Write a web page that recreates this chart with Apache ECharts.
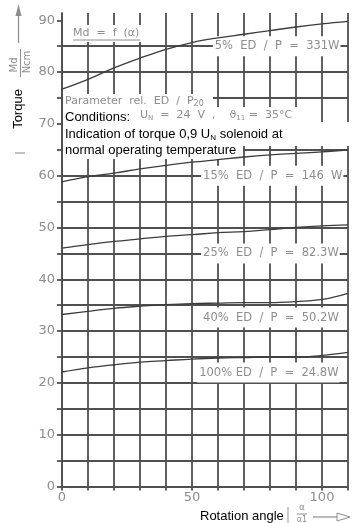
<!DOCTYPE html>
<html>
<head>
<meta charset="utf-8">
<script src="https://cdn.jsdelivr.net/npm/echarts@6/dist/echarts.min.js"></script>
<style>
  html, body { margin: 0; padding: 0; background: #fff; }
  #chart { width: 352px; height: 523px; }
</style>
</head>
<body>
<div id="chart"></div>
<script>
// Rotation angle (x) and torque Md in Ncm for each duty cycle
const angles = [0, 10, 20, 30, 40, 50, 60, 70, 80, 90, 100, 110];
const ed5   = [76.7, 78.6, 80.8, 82.7, 84.4, 85.7, 86.6, 87.3, 88.0, 88.7, 89.3, 89.8];
const ed15  = [58.8, 59.8, 60.5, 61.3, 62.0, 62.6, 63.1, 63.6, 64.0, 64.3, 64.6, 65.0];
const ed25  = [46.0, 46.7, 47.3, 47.8, 48.3, 48.6, 49.0, 49.2, 49.6, 50.0, 50.3, 50.5];
const ed40  = [33.2, 33.8, 34.4, 34.8, 35.1, 35.3, 35.4, 35.5, 35.5, 35.7, 36.1, 37.3];
const ed100 = [22.1, 22.9, 23.5, 24.0, 24.3, 24.6, 24.8, 24.9, 25.0, 25.0, 25.3, 25.9];

// Curve captions and the torque level they sit on
const curveLabels = ['5%  ED  /  P  =  331W', '15%  ED  /  P  =  146  W', '25%  ED  /  P  =  82.3W', '40%  ED  /  P  =  50.2W', '100% ED  /  P  =  24.8W'];
const curveLabelAt = [[58, 85], [53.5, 60], [53.5, 45], [53.5, 32.6], [52, 22]];

// Axis ticks and labels
const yTickValues = [0, 5, 10, 15, 20, 25, 30, 35, 40, 45, 50, 55, 60, 65, 70, 75, 80, 85, 90];
const yLabelValues = [0, 10, 20, 30, 40, 50, 60, 70, 80, 90];
const xLabelValues = [0, 50, 100];

const ink = '#505050';
const grey = '#8e8e8e';
const curveInk = '#3c3c3c';
const draft = "'DejaVu Sans',sans-serif";
const arial = "'Liberation Sans', Arial, sans-serif";

const chart = echarts.init(document.getElementById('chart'), null, { renderer: 'canvas' });

function curve(name, values) {
  return {
    name, type: 'line', smooth: 0.4, symbol: 'none', z: 2,
    data: angles.map((a, i) => [a, values[i]]),
    lineStyle: { color: curveInk, width: 1.3 }
  };
}

chart.setOption({
  animation: false,
  backgroundColor: '#fff',
  grid: { left: 62, right: 4, top: 13, bottom: 36.5 },
  xAxis: {
    type: 'value', min: 0, max: 110, interval: 10,
    axisLine: { lineStyle: { color: ink, width: 1.8 } },
    axisTick: { length: 4, lineStyle: { color: ink, width: 1.8 } },
    splitLine: { lineStyle: { color: ink, width: 1.8 } },
    axisLabel: {
      color: grey, fontFamily: draft, fontSize: 13, margin: 5,
      formatter: v => xLabelValues.includes(v) ? String(v) : ''
    }
  },
  yAxis: {
    type: 'value', min: 0, max: 91.4, interval: 5,
    axisLine: { lineStyle: { color: ink, width: 1.8 } },
    axisTick: { length: 5, customValues: yTickValues, lineStyle: { color: ink, width: 1.8 } },
    splitLine: { showMaxLine: false, lineStyle: { color: ink, width: 1.8 } },
    axisLabel: {
      color: grey, fontFamily: draft, fontSize: 13, margin: 7,
      customValues: yLabelValues,
      formatter: v => yLabelValues.includes(v) ? String(v) : ''
    }
  },
  series: [
    curve('5% ED', ed5),
    curve('15% ED', ed15),
    curve('25% ED', ed25),
    curve('40% ED', ed40),
    curve('100% ED', ed100)
  ]
});

// Annotations: white panels hide the grid behind text
const whiteBox = (x, y, w, h) => ({
  type: 'rect', z: 1, silent: true,
  shape: { x, y, width: w, height: h },
  style: { fill: '#fff' }
});

const elements = [
  whiteBox(63, 94, 150, 14),
  whiteBox(63, 107, 237, 16),
  whiteBox(63, 122, 289, 24),
  whiteBox(63, 145, 180, 14),
  whiteBox(71, 25, 72, 17),

  // Md = f (α)
  { type: 'text', z: 3, x: 73, y: 33, style: { text: 'Md  =  f  (α)', fill: grey, font: `11px ${draft}`, textVerticalAlign: 'middle' } },
  { type: 'line', z: 3, shape: { x1: 73, y1: 40, x2: 140, y2: 40 }, style: { stroke: grey, lineWidth: 1 } },

  // Parameter line
  { type: 'text', z: 3, x: 65, y: 101, style: {
      text: '{a|Parameter  rel.  ED  /  P}{s|20}', textVerticalAlign: 'middle',
      rich: { a: { fill: grey, font: `11px ${draft}` }, s: { fill: grey, font: `8px ${draft}`, padding: [6, 0, 0, 0] } } } },

  // Conditions
  { type: 'text', z: 3, x: 65, y: 117, style: { text: 'Conditions:', fill: '#000', font: `13px ${arial}`, textVerticalAlign: 'middle' } },
  { type: 'text', z: 3, x: 140, y: 115, style: {
      text: '{a|U}{s|N}{a|  =  24  V  ,    ϑ}{s|11}{a| =  35°C}', textVerticalAlign: 'middle',
      rich: { a: { fill: grey, font: `11px ${draft}` }, s: { fill: grey, font: `7px ${draft}`, padding: [6, 0, 0, 0] } } } },
  { type: 'text', z: 3, x: 65, y: 134, style: {
      text: '{a|Indication of torque 0,9 U}{s|N}{a| solenoid at}', textVerticalAlign: 'middle',
      rich: { a: { fill: '#000', font: `13px ${arial}` }, s: { fill: '#000', font: `8px ${arial}`, padding: [7, 0, 0, 0] } } } },
  { type: 'text', z: 3, x: 65, y: 150, style: { text: 'normal operating temperature', fill: '#000', font: `13px ${arial}`, textVerticalAlign: 'middle' } },

  // Vertical axis title
  { type: 'text', z: 3, x: 18, y: 109, rotation: Math.PI / 2, style: {
      text: 'Torque', fill: '#000', font: `13px ${arial}`, textAlign: 'center', textVerticalAlign: 'middle' } },
  { type: 'line', z: 3, shape: { x1: 15, y1: 153, x2: 25, y2: 153 }, style: { stroke: '#999', lineWidth: 1.2 } },
  { type: 'text', z: 3, x: 14, y: 65, rotation: Math.PI / 2, style: {
      text: 'Md', fill: grey, font: `10px ${draft}`, textAlign: 'center', textVerticalAlign: 'middle' } },
  { type: 'line', z: 3, shape: { x1: 20.5, y1: 49, x2: 20.5, y2: 77 }, style: { stroke: grey, lineWidth: 1 } },
  { type: 'text', z: 3, x: 27, y: 62, rotation: Math.PI / 2, style: {
      text: 'Ncm', fill: grey, font: `10px ${draft}`, textAlign: 'center', textVerticalAlign: 'middle' } },
  { type: 'line', z: 3, shape: { x1: 18.5, y1: 43, x2: 18.5, y2: 14 }, style: { stroke: grey, lineWidth: 1.2 } },
  { type: 'polygon', z: 3, shape: { points: [[18.5, 4], [15.5, 16], [21.5, 16]] }, style: { fill: grey } },

  // Horizontal axis title
  { type: 'rect', z: 1, shape: { x: 198, y: 507, width: 90, height: 16 }, style: { fill: '#fff' } },
  { type: 'text', z: 3, x: 200, y: 516, style: { text: 'Rotation angle', fill: '#000', font: `13px ${arial}`, textVerticalAlign: 'middle' } },
  { type: 'line', z: 3, shape: { x1: 288, y1: 507, x2: 288, y2: 523 }, style: { stroke: '#999', lineWidth: 1 } },
  { type: 'text', z: 3, x: 302, y: 508, style: { text: 'α', fill: grey, font: `9px ${draft}`, textAlign: 'center', textVerticalAlign: 'middle' } },
  { type: 'line', z: 3, shape: { x1: 297, y1: 514, x2: 307, y2: 514 }, style: { stroke: grey, lineWidth: 1 } },
  { type: 'text', z: 3, x: 302, y: 520, style: { text: 'α1', fill: grey, font: `8px ${draft}`, textAlign: 'center', textVerticalAlign: 'middle' } },
  { type: 'line', z: 3, shape: { x1: 313, y1: 517, x2: 337, y2: 517 }, style: { stroke: grey, lineWidth: 1.2 } },
  { type: 'polygon', z: 3, shape: { points: [[337, 513], [350, 517], [337, 521]] }, style: { fill: '#fff', stroke: grey, lineWidth: 1 } }
];

// Curve captions anchored to data coordinates
curveLabels.forEach((t, i) => {
  const p = chart.convertToPixel({ gridIndex: 0 }, curveLabelAt[i]);
  elements.push({
    type: 'text', z: 1, x: p[0], y: p[1],
    style: {
      text: t, fill: grey, font: `11.5px ${draft}`, textVerticalAlign: 'middle',
      backgroundColor: '#fff', padding: [4, 1, 4, 2]
    }
  });
});

chart.setOption({ graphic: { elements } });
</script>
</body>
</html>
